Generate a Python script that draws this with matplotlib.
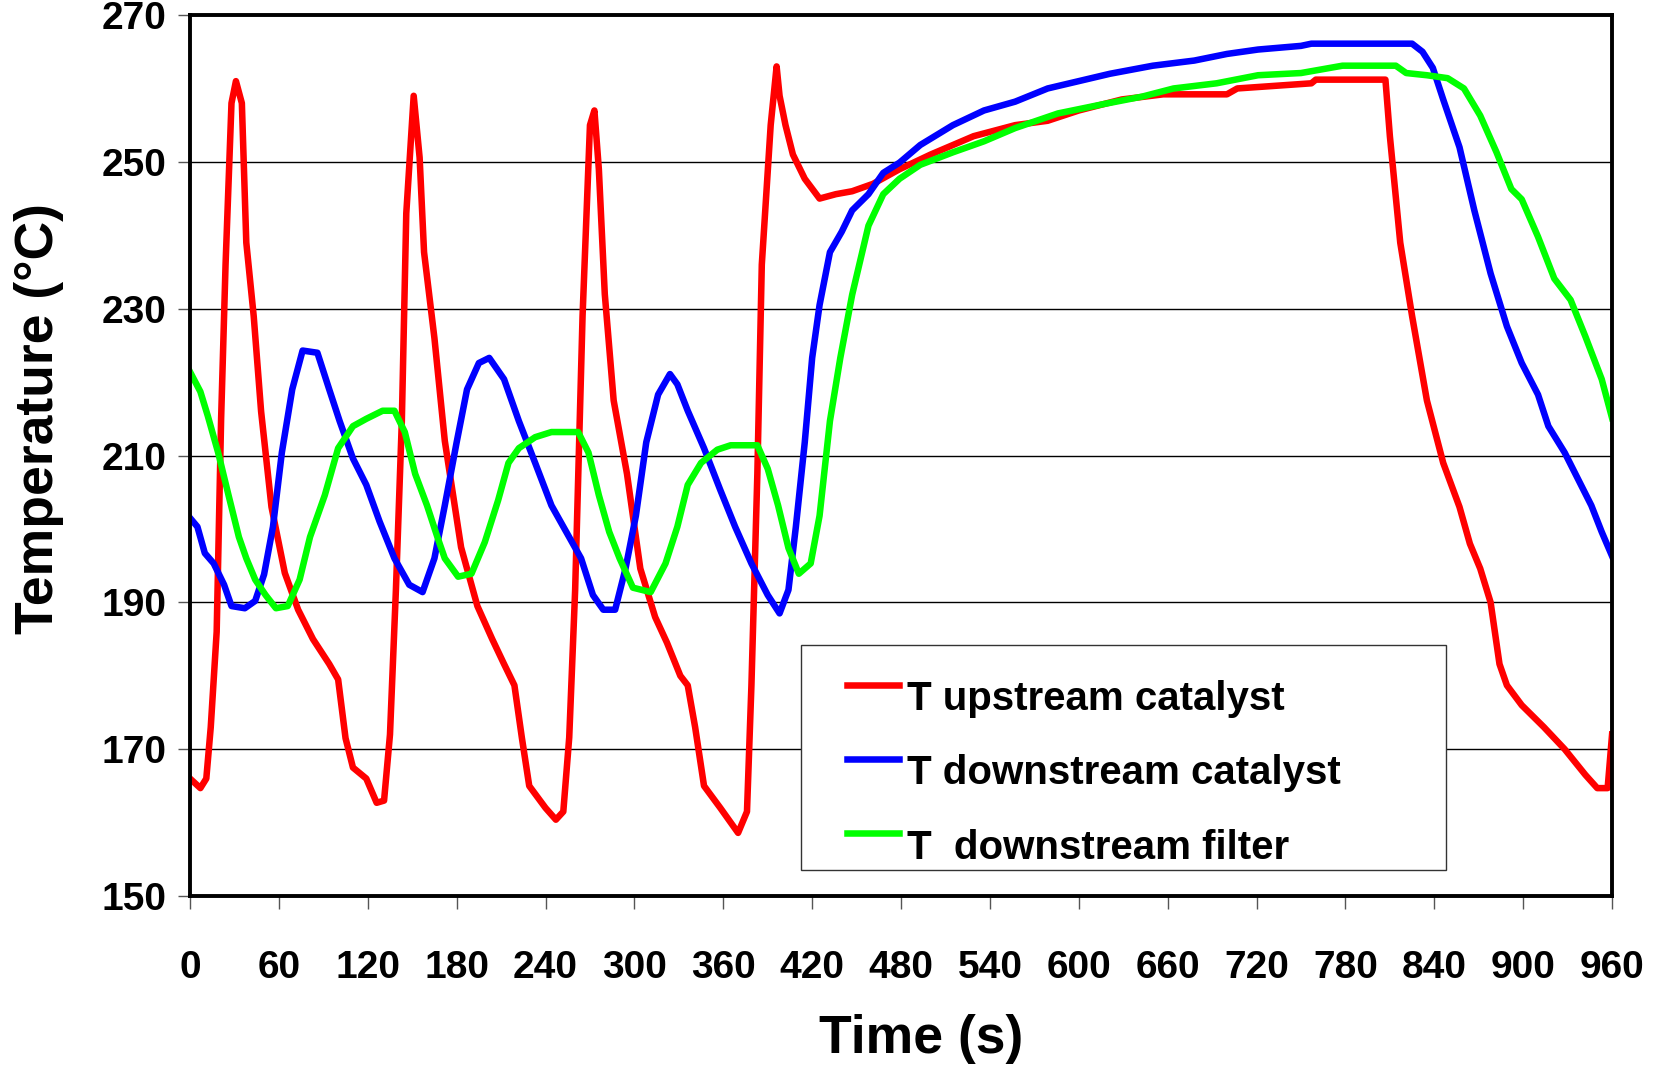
import matplotlib.pyplot as plt
from matplotlib.patches import Rectangle
from matplotlib.legend_handler import HandlerLine2D

plt.rcParams['font.family'] = ['Liberation Sans', 'DejaVu Sans']
plt.rcParams['font.weight'] = 'bold'

# T upstream catalyst
t_up = [0, 7, 11, 14, 18, 21, 24, 28, 31, 35, 38, 43, 48, 55, 64, 73, 83, 94, 100, 105,
        110, 119, 126, 131, 135, 139, 143, 146, 151, 155, 158, 165, 172, 183, 194, 204, 212,
        219, 224, 229, 240, 247, 252, 256, 260, 265, 270, 273, 276, 280, 286, 295, 304, 314,
        322, 331, 336, 341, 347, 358, 370, 376, 379, 383, 386, 392, 396, 398, 402, 407, 415,
        425, 436, 447, 461, 479, 500, 529, 557, 579, 600, 629, 657, 700, 707, 757, 760, 807,
        810, 817, 825, 835, 846, 857, 864, 871, 878, 884, 889, 899, 914, 928, 942, 950, 957, 960]
T_up = [166, 164.7, 166, 173, 186, 215, 236, 258, 261, 258, 239, 229, 216, 203, 194, 189, 185,
        181.6, 179.5, 171.5, 167.5, 166, 162.7, 163, 172, 191.7, 214.7, 243, 259, 250.6, 237.7,
        226, 212, 197.5, 189.5, 185, 181.6, 178.7, 171.6, 165, 162, 160.4, 161.5, 171.6, 191.7,
        229, 255, 257, 249, 232, 217.5, 207.5, 194.6, 188, 184.5, 180, 178.7, 173, 165, 162,
        158.6, 161.5, 178.7, 207.5, 236, 255, 263, 259, 255, 251, 247.7, 245, 245.6, 246, 247,
        249, 251, 253.5, 255, 255.6, 257, 258.5, 259.2, 259.2, 260, 260.7, 261.2, 261.2,
        253.5, 239, 229, 217.5, 209, 203, 198, 194.6, 190, 181.6, 178.7, 176, 173, 170, 166.5,
        164.7, 164.7, 172]

# T downstream catalyst
t_dc = [0, 5, 10, 16, 23, 28, 37, 44, 50, 56, 62, 69, 76, 86, 94, 101, 110, 119, 128, 138,
        148, 157, 165, 172, 180, 187, 195, 202, 212, 222, 233, 244, 254, 264, 272, 279, 287,
        294, 301, 308, 316, 324, 329, 336, 347, 358, 368, 379, 390, 398, 404, 409, 415, 420,
        425, 432, 440, 447, 458, 468, 479, 493, 515, 536, 557, 579, 600, 621, 650, 678, 700,
        721, 750, 757, 825, 832, 839, 846, 857, 867, 878, 889, 899, 910, 917, 928, 939, 946,
        953, 960]
T_dc = [201.5, 200.3, 196.7, 195.3, 192.4, 189.5, 189.2, 190.2, 193.8, 200.3, 210.4, 219,
        224.3, 224, 219, 214.7, 209.6, 206, 201, 196, 192.4, 191.4, 196, 203.2, 211.8, 219,
        222.6, 223.3, 220.4, 214.7, 209, 203.2, 199.6, 196, 191, 189, 189, 194.6, 201.8,
        211.8, 218.3, 221.1, 219.7, 216.1, 211, 205.3, 200.3, 195.3, 191, 188.5, 191.7, 200.3,
        211.8, 223.3, 230.5, 237.7, 240.5, 243.4, 245.6, 248.5, 249.9, 252.3, 255, 257, 258.2,
        260, 261, 262, 263.1, 263.8, 264.7, 265.3, 265.8, 266.1, 266.1, 265, 262.8, 258.5,
        252, 243.4, 234.8, 227.6, 222.6, 218.3, 214, 210.4, 206, 203.2, 199.6, 196.3]

# T downstream filter
t_df = [0, 7, 12, 19, 26, 33, 38, 44, 51, 58, 66, 74, 81, 91, 100, 110, 119, 130, 138, 145,
        152, 160, 167, 172, 181, 190, 199, 208, 215, 222, 233, 244, 262, 269, 276, 283, 290,
        299, 311, 321, 329, 336, 345, 356, 365, 383, 390, 397, 404, 411, 419, 425, 432, 439,
        447, 458, 468, 479, 493, 515, 536, 557, 586, 615, 643, 664, 693, 721, 750, 778, 814,
        821, 835, 849, 860, 871, 882, 892, 899, 910, 921, 932, 942, 953, 960]
T_df = [221.4, 218.7, 215.4, 210.4, 204.6, 198.9, 196, 193.1, 191, 189.2, 189.5, 193.1, 198.9,
        204.6, 211, 214, 215, 216.1, 216.1, 213.2, 207.5, 203.2, 198.9, 196, 193.5, 193.9,
        198.2, 203.9, 209, 211, 212.5, 213.2, 213.2, 210.4, 204.6, 199.6, 196, 192, 191.4,
        195.3, 200.3, 206, 209, 210.8, 211.4, 211.4, 208.2, 203.2, 197.4, 193.9, 195.3, 201.8,
        214.7, 223.3, 231.9, 241.3, 245.6, 247.7, 249.6, 251.3, 252.8, 254.6, 256.6, 257.8,
        258.9, 260, 260.7, 261.8, 262.1, 263.1, 263.1, 262.1, 261.8, 261.4, 260, 256.3, 251.3,
        246.3, 244.9, 239.8, 234.1, 231.2, 226.2, 220.4, 215.1]

labels = ['T upstream catalyst', 'T downstream catalyst', 'T  downstream filter']
colors = ['#ff0000', '#0000ff', '#00ff00']
x_ticks = list(range(0, 961, 60))
y_ticks = list(range(150, 271, 20))


# legend line sits a bit higher than the text, like in the original
class RaisedLine(HandlerLine2D):
    def create_artists(self, legend, orig_handle, xdescent, ydescent, width, height,
                       fontsize, trans):
        arts = super().create_artists(legend, orig_handle, xdescent, ydescent, width,
                                      height, fontsize, trans)
        for a in arts:
            a.set_ydata([y + 8 for y in a.get_ydata()])
        return arts


fig = plt.figure(figsize=(16.58, 10.74), dpi=100)
ax = fig.add_axes([0.1146, 0.1657, 0.8577, 0.8203])

lines = []
for (t, T), lab, c in zip([(t_up, T_up), (t_dc, T_dc), (t_df, T_df)], labels, colors):
    ln, = ax.plot(t, T, color=c, lw=4.7, label=lab, solid_joinstyle='round')
    lines.append(ln)

ax.set_xlim(0, 960)
ax.set_ylim(150, 270)
ax.set_xticks(x_ticks)
ax.set_yticks(y_ticks)
ax.yaxis.grid(True, color='black', lw=1)
ax.set_axisbelow(True)
for s in ax.spines.values():
    s.set_linewidth(2.8)
ax.tick_params(axis='both', direction='out', length=9, width=1, color='#555555',
               labelsize=28)
ax.tick_params(axis='x', pad=30)
ax.tick_params(axis='y', pad=8)

ax.set_xlabel('Time (s)', fontsize=38.5, fontweight='bold', va='center')
ax.xaxis.set_label_coords(0.514, -0.162)
ax.set_ylabel('Temperature (°C)', fontsize=38.5, fontweight='bold', va='center')
ax.yaxis.set_label_coords(-0.106, 0.542)

# legend box drawn separately, entries placed inside it
ax.add_patch(Rectangle((0.430, 0.030), 0.453, 0.255, transform=ax.transAxes,
                       facecolor='white', edgecolor='#333333', lw=1, zorder=4))
leg = ax.legend(handles=lines, loc='upper left', bbox_to_anchor=(0.462, 0.245),
                fontsize=29, frameon=False, handlelength=1.3, handletextpad=0.2,
                labelspacing=0.9, borderpad=0, borderaxespad=0,
                handler_map={l: RaisedLine() for l in lines})
leg.set_zorder(5)

fig.savefig('out.png', dpi=100)
